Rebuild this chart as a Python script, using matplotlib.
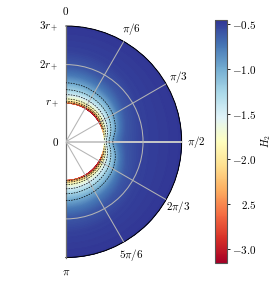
import numpy as np
import matplotlib
matplotlib.use("Agg")
import matplotlib.pyplot as plt

plt.rcParams['mathtext.fontset'] = 'cm'
plt.rcParams['font.family'] = ['cmr10', 'DejaVu Serif']
plt.rcParams['axes.formatter.use_mathtext'] = True

# Values: radius (in r+) at which H2 reaches each level, per polar angle
H_levels = [-3.15, -2.5, -2.0, -1.75, -1.5, -1.25, -1.0, -0.75, -0.6, -0.5, -0.46]
theta_deg = [0, 15, 30, 45, 60, 75, 90]
r_row_0  = [0.99, 1.01, 1.05, 1.11, 1.22, 1.35, 1.53, 1.75, 2.00, 2.40, 3.0]
r_row_15 = [0.99, 1.01, 1.05, 1.11, 1.22, 1.34, 1.51, 1.73, 1.97, 2.37, 3.0]
r_row_30 = [1.00, 1.02, 1.06, 1.11, 1.21, 1.33, 1.48, 1.68, 1.92, 2.32, 3.0]
r_row_45 = [1.00, 1.03, 1.06, 1.11, 1.20, 1.31, 1.45, 1.63, 1.85, 2.25, 3.0]
r_row_60 = [1.00, 1.02, 1.05, 1.10, 1.17, 1.28, 1.41, 1.56, 1.75, 2.15, 3.0]
r_row_75 = [0.97, 0.99, 1.02, 1.06, 1.12, 1.21, 1.33, 1.46, 1.63, 2.05, 3.0]
r_row_90 = [0.88, 0.91, 0.94, 0.98, 1.03, 1.10, 1.19, 1.33, 1.52, 2.00, 3.0]
contour_levels = [-2.5, -2.0, -1.75, -1.5, -1.25, -1.0]
r_ticks = [1, 2, 3]
r_labels = [r'$r_+$', r'$2r_+$', r'$3r_+$']
theta_labels = ['$0$', r'$\pi/6$', r'$\pi/3$', r'$\pi/2$', r'$2\pi/3$', r'$5\pi/6$', r'$\pi$']
cbar_ticks = [-0.5, -1.0, -1.5, -2.0, -2.5, -3.0]
cbar_labels = [r'$-0.5$', r'$-1.0$', r'$-1.5$', r'$-2.0$', r'$2.5$', r'$-3.0$']
vmin, vmax = -3.156, -0.452

# Build the field from the table
rows = np.array([r_row_0, r_row_15, r_row_30, r_row_45, r_row_60, r_row_75, r_row_90])
th_fine = np.linspace(0, np.pi, 361)
r_fine = np.linspace(1.0, 3.0, 401)
folded = np.degrees(np.minimum(th_fine, np.pi - th_fine))
field = np.zeros((th_fine.size, r_fine.size))
for i, t in enumerate(folded):
    radii = [np.interp(t, theta_deg, rows[:, j]) for j in range(len(H_levels))]
    field[i] = np.interp(r_fine, radii, H_levels)
# light smoothing along theta of the piecewise-linear table
half = 10
kernel = np.ones(2 * half + 1) / (2 * half + 1)
for j in range(r_fine.size):
    pad = np.r_[field[half:0:-1, j], field[:, j], field[-2:-half - 2:-1, j]]
    field[:, j] = np.convolve(pad, kernel, mode='valid')

fig = plt.figure(figsize=(2.8, 2.84), dpi=100)
# the polar half-disc sits centred inside a square axes box
ax = fig.add_axes([8 / 280, (284 - 257.5) / 284, 231.5 / 280, 231.5 / 284], projection='polar')
ax.set_theta_zero_location('N')
ax.set_theta_direction(-1)
ax.set_thetamin(0)
ax.set_thetamax(180)
ax.set_rlim(0, 3)

T, R = np.meshgrid(th_fine, r_fine, indexing='ij')
mesh = ax.pcolormesh(T, R, field, cmap='RdYlBu', vmin=vmin, vmax=vmax, shading='gouraud', rasterized=True)
ax.contour(T, R, field, levels=sorted(contour_levels), colors='k', linewidths=0.5,
           linestyles=[(0, (2.2, 1.6))], zorder=3)

ax.set_xticks(np.radians(np.arange(0, 181, 30)))
ax.set_xticklabels(theta_labels, fontsize=8)
ax.set_yticks([2])
ax.set_yticklabels([])
ax.grid(True, color='#b4b4b4', linewidth=0.75, zorder=4)
ax.set_axisbelow(False)
ax.tick_params(axis='x', pad=3.5, length=0)
ax.tick_params(axis='y', length=0)
# thicker equator line; the two end lines give way to the grey spine
grid = ax.xaxis.get_gridlines()
grid[3].set_linewidth(1.4)
grid[3].set_color('#c8c8c8')
grid[0].set_visible(False)
grid[6].set_visible(False)

ax.spines['polar'].set_color('k')
ax.spines['polar'].set_linewidth(0.7)
for s in ('start', 'end'):
    ax.spines[s].set_color('#707070')
    ax.spines[s].set_linewidth(0.9)
ax.spines['inner'].set_visible(False)

for r, lab in zip(r_ticks, r_labels):
    ax.annotate(lab, xy=(0, r), xytext=(-5, 0), textcoords='offset points', ha='right',
                va='center', fontsize=8, annotation_clip=False)
ax.annotate('$0$', xy=(0, 0), xytext=(-5, 0), textcoords='offset points', ha='right',
            va='center', fontsize=8, annotation_clip=False)

cax = fig.add_axes([214.7 / 280, (284 - 263) / 284, 12 / 280, 243 / 284])
cb = fig.colorbar(mesh, cax=cax)
cb.set_ticks(cbar_ticks)
cb.set_ticklabels(cbar_labels)
cb.ax.tick_params(labelsize=8, length=2.5, width=0.6, pad=19)
for t in cb.ax.get_yticklabels():
    t.set_ha('right')
cb.outline.set_edgecolor('#555555')
cb.outline.set_linewidth(0.8)
cb.set_label(r'$H_2$', fontsize=7.5, labelpad=2)

fig.savefig('out.png', dpi=100)
